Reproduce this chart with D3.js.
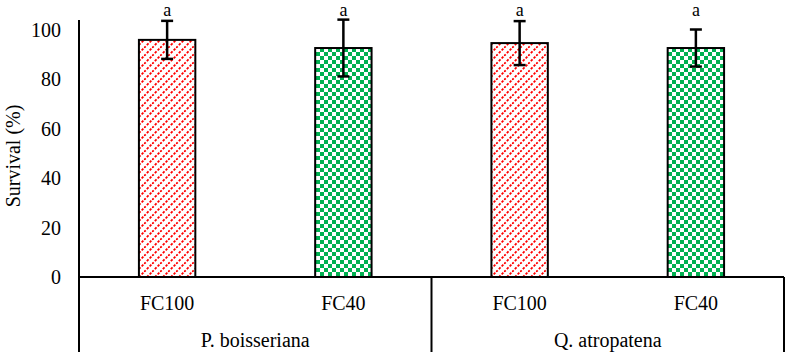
<!DOCTYPE html>
<html>
<head>
<meta charset="utf-8">
<script src="https://cdn.jsdelivr.net/npm/d3@7"></script>
<style>
  body { margin: 0; background: #fff; }
  svg text { font-family: "Liberation Serif", "Times New Roman", serif; fill: #000; }
</style>
</head>
<body>
<svg id="chart"></svg>
<script>
/////////////////////////////////
// DATA
//////////////////////////////////

var treatments = ["FC100", "FC40", "FC100", "FC40"];
var species = ["P. boisseriana", "Q. atropatena"];
var survival = [96.0, 92.7, 94.7, 92.7];
var stdErr = [7.7, 11.5, 8.9, 7.5];
var letters = ["a", "a", "a", "a"];
var yTicks = [0, 20, 40, 60, 80, 100];

/////////////////////////////////
// SIZES
//////////////////////////////////

var width = 789;
var height = 356;
var left = 79, right = 784, zeroY = 277, bottom = 352;

var svg = d3.select("#chart")
    .attr("width", width)
    .attr("height", height);

// patterns
var defs = svg.append("defs");

var hatch = defs.append("pattern")
    .attr("id", "redHatch")
    .attr("patternUnits", "userSpaceOnUse")
    .attr("width", 8)
    .attr("height", 8);
hatch.append("rect").attr("width", 8).attr("height", 8).attr("fill", "#fff");
hatch.append("path")
    .attr("d", "M-2,2 L2,-2 M0,8 L8,0 M6,10 L10,6")
    .attr("stroke", "#ff0000")
    .attr("stroke-width", 1.8)
    .attr("stroke-dasharray", "2.4,1.6");

var checker = defs.append("pattern")
    .attr("id", "greenCheck")
    .attr("patternUnits", "userSpaceOnUse")
    .attr("width", 8)
    .attr("height", 8);
checker.append("rect").attr("width", 8).attr("height", 8).attr("fill", "#fff");
checker.append("rect").attr("width", 4).attr("height", 4).attr("fill", "#00b050");
checker.append("rect").attr("x", 4).attr("y", 4).attr("width", 4).attr("height", 4).attr("fill", "#00b050");

var fills = ["url(#redHatch)", "url(#greenCheck)", "url(#redHatch)", "url(#greenCheck)"];

/////////////////////////////////
// SCALES
//////////////////////////////////

var x = d3.scaleBand()
    .domain(d3.range(treatments.length))
    .range([left, right])
    .padding(0);

var y = d3.scaleLinear()
    .domain([0, 100])
    .range([zeroY, 30]);

var barW = x.bandwidth() * 0.32;

/////////////////////////////////
// AXES
//////////////////////////////////

// y axis line
svg.append("line")
    .attr("x1", left).attr("x2", left)
    .attr("y1", y(104)).attr("y2", bottom)
    .attr("stroke", "#000").attr("stroke-width", 2);

// y tick labels
svg.selectAll(".ytick")
    .data(yTicks)
    .enter().append("text")
    .attr("class", "ytick")
    .attr("x", 61)
    .attr("y", function(d) { return y(d); })
    .attr("dy", "0.35em")
    .attr("text-anchor", "end")
    .style("font-size", "20px")
    .text(function(d) { return d; });

// y title
svg.append("text")
    .attr("transform", "translate(20," + y(49) + ") rotate(-90)")
    .attr("text-anchor", "middle")
    .style("font-size", "20px")
    .text("Survival (%)");

/////////////////////////////////
// BARS
//////////////////////////////////

svg.selectAll(".bar")
    .data(survival)
    .enter().append("rect")
    .attr("class", "bar")
    .attr("x", function(d, i) { return x(i) + x.bandwidth() / 2 - barW / 2; })
    .attr("y", function(d) { return y(d); })
    .attr("width", barW)
    .attr("height", function(d) { return y(0) - y(d); })
    .attr("fill", function(d, i) { return fills[i]; })
    .attr("stroke", "#000")
    .attr("stroke-width", 2);

// error bars
var err = svg.selectAll(".err")
    .data(survival)
    .enter().append("g")
    .attr("class", "err")
    .attr("transform", function(d, i) { return "translate(" + (x(i) + x.bandwidth() / 2) + ",0)"; });

err.append("line")
    .attr("y1", function(d, i) { return y(d + stdErr[i]); })
    .attr("y2", function(d, i) { return y(d - stdErr[i]); })
    .attr("stroke", "#000").attr("stroke-width", 2.5);
err.append("line")
    .attr("x1", -6).attr("x2", 6)
    .attr("y1", function(d, i) { return y(d + stdErr[i]); })
    .attr("y2", function(d, i) { return y(d + stdErr[i]); })
    .attr("stroke", "#000").attr("stroke-width", 2.5);
err.append("line")
    .attr("x1", -6).attr("x2", 6)
    .attr("y1", function(d, i) { return y(d - stdErr[i]); })
    .attr("y2", function(d, i) { return y(d - stdErr[i]); })
    .attr("stroke", "#000").attr("stroke-width", 2.5);

// significance letters
svg.selectAll(".letter")
    .data(letters)
    .enter().append("text")
    .attr("class", "letter")
    .attr("x", function(d, i) { return x(i) + x.bandwidth() / 2; })
    .attr("y", 16)
    .attr("text-anchor", "middle")
    .style("font-size", "18px")
    .text(function(d) { return d; });

/////////////////////////////////
// X AXIS (two level)
//////////////////////////////////

svg.append("line")
    .attr("x1", left).attr("x2", right)
    .attr("y1", y(0)).attr("y2", y(0))
    .attr("stroke", "#000").attr("stroke-width", 2);

var groupEdges = [x(2), right];
svg.selectAll(".sep")
    .data(groupEdges)
    .enter().append("line")
    .attr("class", "sep")
    .attr("x1", function(d) { return d; }).attr("x2", function(d) { return d; })
    .attr("y1", y(0)).attr("y2", bottom)
    .attr("stroke", "#000").attr("stroke-width", 2);

svg.selectAll(".xlab")
    .data(treatments)
    .enter().append("text")
    .attr("class", "xlab")
    .attr("x", function(d, i) { return x(i) + x.bandwidth() / 2; })
    .attr("y", 303)
    .attr("dy", "0.35em")
    .attr("text-anchor", "middle")
    .style("font-size", "20px")
    .text(function(d) { return d; });

svg.selectAll(".glab")
    .data(species)
    .enter().append("text")
    .attr("class", "glab")
    .attr("x", function(d, i) { return (x(i * 2) + x(i * 2 + 1) + x.bandwidth()) / 2; })
    .attr("y", 340)
    .attr("dy", "0.35em")
    .attr("text-anchor", "middle")
    .style("font-size", "20px")
    .text(function(d) { return d; });
</script>
</body>
</html>
